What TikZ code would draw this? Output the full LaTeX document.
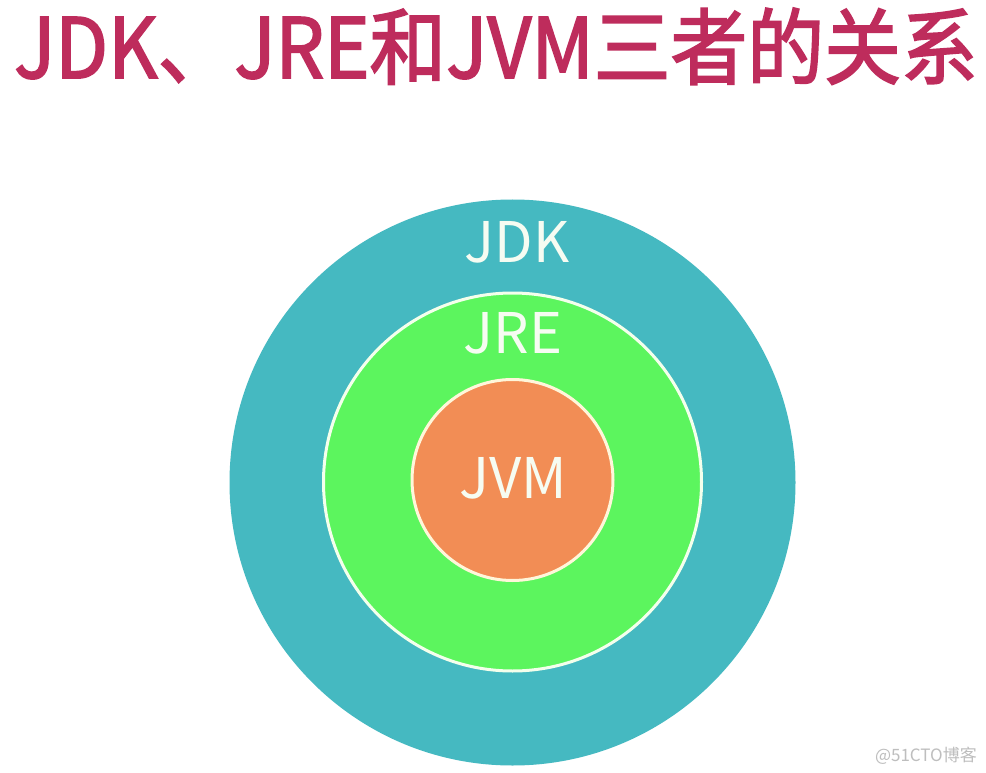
\documentclass[tikz,border=0pt]{standalone}
\usepackage{fontspec}
\newfontfamily\cjk{Noto Sans CJK SC}
\newfontfamily\cjktitle[FakeBold=2.2]{Noto Sans CJK SC}
\definecolor{titlered}{HTML}{BE2C5C}
\definecolor{jdkteal}{HTML}{45B9C1}
\definecolor{jregreen}{HTML}{5CF55E}
\definecolor{jvmorange}{HTML}{F28D55}
\definecolor{labelwhite}{HTML}{F6FCF2}
\definecolor{ringwhite}{HTML}{F4FFEC}
\definecolor{cream}{HTML}{FFF6DA}
\definecolor{markgray}{HTML}{BEBEBE}
\tikzset{
  ring/.style={circle, inner sep=0pt, outer sep=0pt},
  circlabel/.style={font=\cjk\fontsize{56}{60}\selectfont, text=labelwhite, inner sep=0pt, anchor=base},
}
\begin{document}
\begin{tikzpicture}[x=1pt,y=-1pt]
\useasboundingbox (0,0) rectangle (986,773);
\fill[white] (0,0) rectangle (986,773);
\node[ring, fill=jdkteal, minimum size=566pt] (jdk) at (512.5,482.5) {};
\node[ring, fill=jregreen, draw=ringwhite, line width=3pt, minimum size=378pt] (jre) at (512.5,482) {};
\node[ring, fill=jvmorange, draw=cream, line width=3pt, minimum size=201pt] (jvm) at (512.5,480) {};
\node[circlabel] (jdklabel) at (517,262) {JDK};
\node[circlabel] (jrelabel) at (513,353) {JRE};
\node[circlabel] (jvmlabel) at (513,498) {JVM};
\node[font=\cjktitle\fontsize{83}{90}\selectfont, text=titlered, inner sep=0pt, anchor=base west] (title) at (14,78) {\scalebox{0.925}[1]{JDK、JRE和JVM三者的关系}};
\node[font=\cjk\fontsize{17}{20}\selectfont, text=markgray, inner sep=0pt, anchor=base east] (mark) at (977,761) {@51CTO博客};
\end{tikzpicture}
\end{document}
